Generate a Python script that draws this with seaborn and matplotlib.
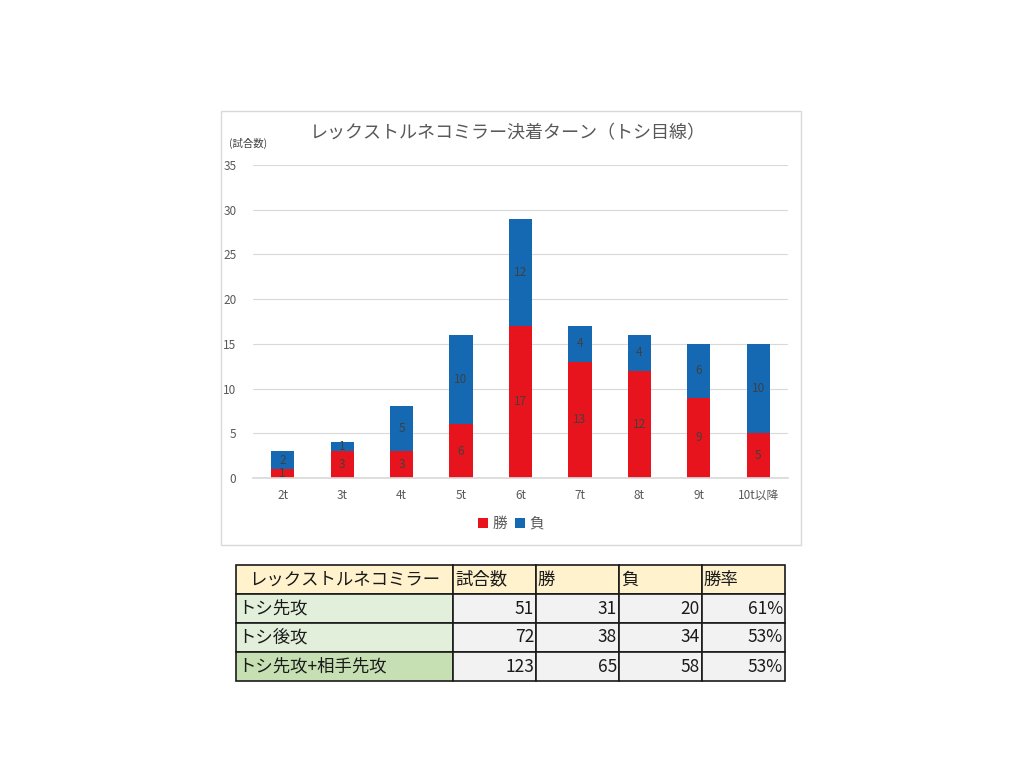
import matplotlib
matplotlib.use("Agg")
import matplotlib.pyplot as plt
import seaborn as sns
import pandas as pd
import numpy as np
from matplotlib.patches import Rectangle

sns.set_theme(style="white")
plt.rcParams['font.family'] = ['Noto Sans CJK JP', 'DejaVu Sans']

turns = ["2t", "3t", "4t", "5t", "6t", "7t", "8t", "9t", "10t以降"]
wins = [1, 3, 3, 6, 17, 13, 12, 9, 5]
losses = [2, 1, 5, 10, 12, 4, 4, 6, 10]

table_header = ["レックストルネコミラー", "試合数", "勝", "負", "勝率"]
table_rows = ["トシ先攻", "トシ後攻", "トシ先攻+相手先攻"]
table_games = [51, 72, 123]
table_wins = [31, 38, 65]
table_losses = [20, 34, 58]
table_rates = ["61%", "53%", "53%"]

RED = "#E8141D"
BLUE = "#1569B3"
W, H = 1024, 768

fig = plt.figure(figsize=(10.24, 7.68), dpi=100)
fig.patch.set_facecolor("white")

# chart frame
fig.patches.append(Rectangle((221 / W, 1 - 545 / H), 580 / W, 434 / H,
                             transform=fig.transFigure, fill=False,
                             edgecolor="#D9D9D9", linewidth=1))

ax = fig.add_axes([253 / W, 1 - 478 / H, 535 / W, 313 / H])
df = pd.DataFrame({"turn": turns, "勝": wins, "負": losses,
                   "total": np.array(wins) + np.array(losses)})

sns.barplot(data=df, x="turn", y="total", color=BLUE, width=0.39, saturation=1,
            ax=ax, label="負", linewidth=0, edgecolor="none")
sns.barplot(data=df, x="turn", y="勝", color=RED, width=0.39, saturation=1,
            ax=ax, label="勝", linewidth=0, edgecolor="none")

handles, labels = ax.get_legend_handles_labels()
if ax.get_legend() is not None:
    ax.get_legend().remove()

for i, (w, l) in enumerate(zip(wins, losses)):
    ax.text(i, w / 2, str(w), ha="center", va="center", fontsize=8.5, color="#404040")
    ax.text(i, w + l / 2, str(l), ha="center", va="center", fontsize=8.5, color="#404040")

ax.set_ylim(0, 35)
ax.set_xlim(-0.5, 8.5)
ax.set_yticks(range(0, 36, 5))
ax.yaxis.grid(True, color="#D9D9D9", linewidth=0.8)
ax.set_axisbelow(True)
for s in ["top", "right", "left"]:
    ax.spines[s].set_visible(False)
ax.spines["bottom"].set_color("#D9D9D9")
ax.tick_params(axis="both", length=0, labelsize=8.5, labelcolor="#595959")
ax.tick_params(axis="x", pad=8)
ax.tick_params(axis="y", pad=12)
ax.set_xlabel("")
ax.set_ylabel("")

order = [labels.index("勝"), labels.index("負")]
leg = fig.legend([handles[k] for k in order], [labels[k] for k in order],
                 loc="center", bbox_to_anchor=(511 / W, 1 - 524 / H), ncol=2,
                 frameon=False, fontsize=10.5, handlelength=0.7, handleheight=0.7,
                 handletextpad=0.3, columnspacing=0.5)
for t in leg.get_texts():
    t.set_color("#595959")

fig.text(508 / W, 1 - 133 / H, "レックストルネコミラー決着ターン（トシ目線）",
         ha="center", va="center", fontsize=13, color="#595959")
fig.text(229 / W, 1 - 143 / H, "(試合数)", ha="left", va="center", fontsize=7.5, color="#404040")

# table
col_x = [236, 453, 536, 619, 702, 785]
row_y = [565, 594, 623, 652, 681]
cells = [table_header]
for r in range(len(table_rows)):
    cells.append([table_rows[r], str(table_games[r]), str(table_wins[r]),
                  str(table_losses[r]), table_rates[r]])

for r in range(len(row_y) - 1):
    for c in range(len(col_x) - 1):
        x0, x1 = col_x[c], col_x[c + 1]
        y0, y1 = row_y[r], row_y[r + 1]
        if r == 0:
            fc = "#FFF2CC"
        elif c == 0:
            fc = "#C6E0B4" if r == 3 else "#E2EFDA"
        else:
            fc = "#F2F2F2"
        fig.patches.append(Rectangle((x0 / W, 1 - y1 / H), (x1 - x0) / W, (y1 - y0) / H,
                                     transform=fig.transFigure, facecolor=fc,
                                     edgecolor="#1A1A1A", linewidth=1.2))
        txt = cells[r][c]
        yc = 1 - (y0 + y1) / 2 / H
        if r == 0 and c == 0:
            fig.text((x0 + x1) / 2 / W, yc, txt, ha="center", va="center", fontsize=12.5, color="#1A1A1A")
        elif r == 0 or c == 0:
            fig.text((x0 + 2) / W, yc, txt, ha="left", va="center", fontsize=12.5, color="#1A1A1A")
        else:
            fig.text((x1 - 2) / W, yc, txt, ha="right", va="center", fontsize=12.5, color="#1A1A1A")

fig.savefig("out.png", dpi=100, facecolor="white")
